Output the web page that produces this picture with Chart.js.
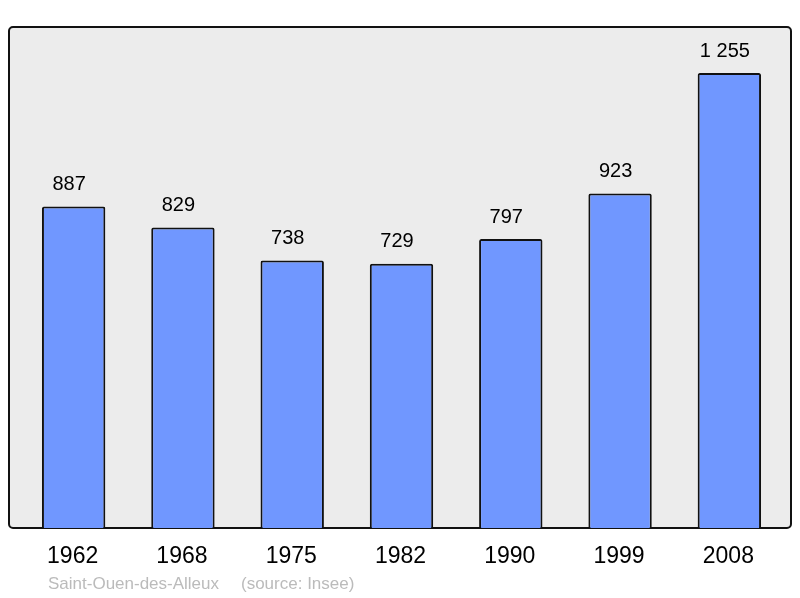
<!DOCTYPE html>
<html>
<head>
<meta charset="utf-8">
<script src="https://cdn.jsdelivr.net/npm/chart.js@4"></script>
<style>
  html, body { margin: 0; padding: 0; background: #fff; }
  #wrap { width: 800px; height: 598px; position: relative; }
</style>
</head>
<body>
<div id="wrap"><canvas id="graf"></canvas></div>
<script>
const annees = ["1962", "1968", "1975", "1982", "1990", "1999", "2008"];
const population = [887, 829, 738, 729, 797, 923, 1255];
const etiquettes = ["887", "829", "738", "729", "797", "923", "1 255"];
const commune = "Saint-Ouen-des-Alleux";
const source = "(source: Insee)";

// fond gris + cadre, libelles, pied de page
const decor = {
  id: 'decor',
  beforeDatasetsDraw(chart) {
    const c = chart.ctx;
    c.save();
    c.beginPath();
    c.roundRect(9, 27, 782, 501, 4);
    c.fillStyle = '#ececec';
    c.fill();
    c.lineWidth = 2;
    c.strokeStyle = '#111';
    c.stroke();
    c.restore();
  },
  afterDatasetsDraw(chart) {
    const c = chart.ctx;
    const x = chart.scales.x, y = chart.scales.y;
    c.save();
    c.fillStyle = '#000';
    c.textAlign = 'center';
    c.textBaseline = 'middle';
    c.font = '20px "Liberation Sans", Arial, sans-serif';
    for (let i = 0; i < population.length; i++) {
      c.fillText(etiquettes[i], x.getPixelForValue(i) - 4.5, y.getPixelForValue(population[i]) - 22);
    }
    c.font = '23px "Liberation Sans", Arial, sans-serif';
    for (let i = 0; i < annees.length; i++) {
      c.fillText(annees[i], x.getPixelForValue(i) - 1, 557);
    }
    c.textAlign = 'left';
    c.fillStyle = '#bbbbbb';
    c.font = '17px "Liberation Sans", Arial, sans-serif';
    c.fillText(commune, 48, 584);
    c.fillText(source, 241, 584);
    c.restore();
  }
};

new Chart(document.getElementById('graf'), {
  type: 'bar',
  data: {
    labels: annees,
    datasets: [{
      data: population,
      backgroundColor: '#7097ff',
      borderColor: '#111',
      borderWidth: 2,
      borderRadius: 2,
      borderSkipped: 'bottom',
      barPercentage: 0.58,
      categoryPercentage: 1
    }]
  },
  options: {
    responsive: true,
    maintainAspectRatio: false,
    animation: false,
    layout: { padding: { left: 19, right: 16, top: 27, bottom: 70 } },
    plugins: { legend: { display: false }, tooltip: { enabled: false } },
    scales: {
      x: { display: false },
      y: { display: false, min: 0, max: 1382 }
    }
  },
  plugins: [decor]
});
</script>
</body>
</html>
